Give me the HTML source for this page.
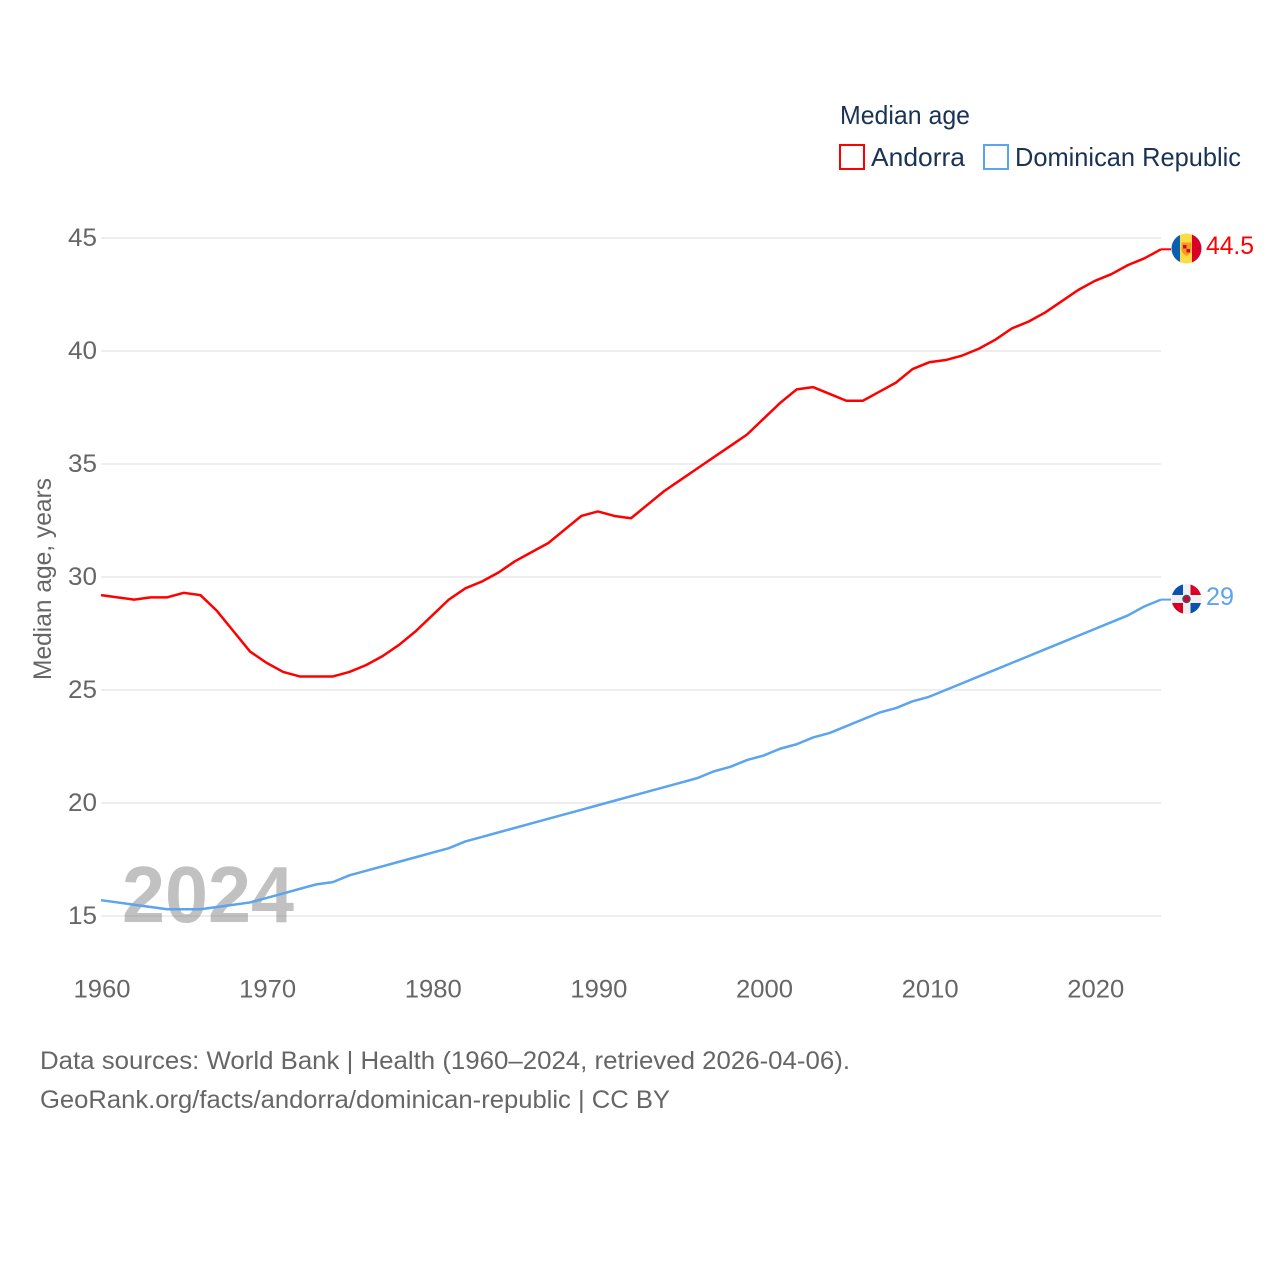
<!DOCTYPE html>
<html lang="en">
<head>
<meta charset="utf-8">
<title>Median age: Andorra and Dominican Republic</title>
<style>
html,body{margin:0;padding:0;background:#fff;width:1280px;height:1280px;overflow:hidden}
svg{display:block}
text{font-family:"Liberation Sans",sans-serif}
</style>
</head>
<body>
<svg id="chart" xmlns="http://www.w3.org/2000/svg" width="1280" height="1280" viewBox="0 0 1280 1280">
  <defs>
    <clipPath id="flag-clip-ad"><circle cx="1186.5" cy="248.500" r="15"/></clipPath>
    <clipPath id="flag-clip-do"><circle cx="1186.5" cy="599" r="15"/></clipPath>
  </defs>
  <g id="grid"></g>
  <g id="yticks"></g>
  <g id="xticks"></g>
  <text x="122" y="922" font-size="80" font-weight="700" fill="#888888" fill-opacity="0.52" textLength="172" lengthAdjust="spacingAndGlyphs">2024</text>
  <path id="line-andorra" fill="none" stroke="#ff0000" stroke-width="2.5" stroke-linejoin="round"/>
  <path id="line-dominican" fill="none" stroke="#5ba4ee" stroke-width="2.5" stroke-linejoin="round"/>
  <line id="leader-andorra" stroke="#ff0000" stroke-width="2"/>
  <line id="leader-dominican" stroke="#5ba4ee" stroke-width="2"/>
  <text transform="translate(51,680) rotate(-90)" font-size="25" fill="#666666" textLength="202" lengthAdjust="spacingAndGlyphs">Median age, years</text>

  <g>
    <text x="840" y="124" font-size="26" fill="#1a3355" textLength="130" lengthAdjust="spacingAndGlyphs">Median age</text>
    <g>
      <rect x="840" y="145" width="24" height="24" fill="#fff" stroke="#ff0000" stroke-width="2"/>
      <text x="871" y="166" font-size="26" fill="#1a3355" textLength="94" lengthAdjust="spacingAndGlyphs">Andorra</text>
    </g>
    <g>
      <rect x="984" y="145" width="24" height="24" fill="#fff" stroke="#5ba4ee" stroke-width="2"/>
      <text x="1015" y="166" font-size="26" fill="#1a3355" textLength="226" lengthAdjust="spacingAndGlyphs">Dominican Republic</text>
    </g>
  </g>

  <g id="flag-andorra">
    <g clip-path="url(#flag-clip-ad)">
      <rect x="1171" y="233" width="9.500" height="32" fill="#0b5fb0"/>
      <rect x="1180" y="233" width="12.500" height="32" fill="#ffda44"/>
      <rect x="1192" y="233" width="11" height="32" fill="#d80027"/>
    </g>
    <path d="M1181.500 242.500h10v7c0 3-2.500 5-5 6.500c-2.500-1.500-5-3.500-5-6.500z" fill="#f39c1f"/>
    <rect x="1186.500" y="249" width="3.500" height="3.500" fill="#d80027"/>
    <rect x="1183" y="245" width="3.500" height="3.500" fill="#d80027"/>
  </g>
  <text id="value-andorra" x="1206" y="254" font-size="25" fill="#ff0000" textLength="48" lengthAdjust="spacingAndGlyphs">44.5</text>

  <g id="flag-dominican">
    <g clip-path="url(#flag-clip-do)">
      <rect x="1171" y="583" width="32" height="32" fill="#f0f0f0"/>
      <rect x="1171" y="583" width="12" height="12" fill="#0b52b0"/>
      <rect x="1190.500" y="583" width="12" height="12" fill="#d80027"/>
      <rect x="1171" y="603" width="12" height="12" fill="#d80027"/>
      <rect x="1190.500" y="603" width="12" height="12" fill="#0b52b0"/>
    </g>
    <circle cx="1186.500" cy="599" r="3.500" fill="#d80027" stroke="#41507a" stroke-width="1.500"/>
  </g>
  <text id="value-dominican" x="1206" y="605" font-size="25" fill="#5ba4ee" textLength="28" lengthAdjust="spacingAndGlyphs">29</text>

  <g>
    <text x="40" y="1069" font-size="25" fill="#666666" textLength="810" lengthAdjust="spacingAndGlyphs">Data sources: World Bank | Health (1960–2024, retrieved 2026-04-06).</text>
    <text x="40" y="1108" font-size="25" fill="#666666" textLength="630" lengthAdjust="spacingAndGlyphs">GeoRank.org/facts/andorra/dominican-republic | CC BY</text>
  </g>
</svg>
<script>
const years = [1960,1961,1962,1963,1964,1965,1966,1967,1968,1969,1970,1971,1972,1973,1974,1975,1976,1977,1978,1979,1980,1981,1982,1983,1984,1985,1986,1987,1988,1989,1990,1991,1992,1993,1994,1995,1996,1997,1998,1999,2000,2001,2002,2003,2004,2005,2006,2007,2008,2009,2010,2011,2012,2013,2014,2015,2016,2017,2018,2019,2020,2021,2022,2023,2024];
const andorraValues = [29.2,29.1,29.0,29.1,29.1,29.3,29.2,28.5,27.6,26.7,26.2,25.8,25.6,25.6,25.6,25.8,26.1,26.5,27.0,27.6,28.3,29.0,29.5,29.8,30.2,30.7,31.1,31.5,32.1,32.7,32.9,32.7,32.6,33.2,33.8,34.3,34.8,35.3,35.8,36.3,37.0,37.7,38.3,38.4,38.1,37.8,37.8,38.2,38.6,39.2,39.5,39.6,39.8,40.1,40.5,41.0,41.3,41.7,42.2,42.7,43.1,43.4,43.8,44.1,44.5];
const dominicanValues = [15.7,15.6,15.5,15.4,15.3,15.3,15.3,15.4,15.5,15.6,15.8,16.0,16.2,16.4,16.5,16.8,17.0,17.2,17.4,17.6,17.8,18.0,18.3,18.5,18.7,18.9,19.1,19.3,19.5,19.7,19.9,20.1,20.3,20.5,20.7,20.9,21.1,21.4,21.6,21.9,22.1,22.4,22.6,22.9,23.1,23.4,23.7,24.0,24.2,24.5,24.7,25.0,25.3,25.6,25.9,26.2,26.5,26.8,27.1,27.4,27.7,28.0,28.3,28.7,29.0];
const yTickLabels = [15,20,25,30,35,40,45];
const xTickLabels = [1960,1970,1980,1990,2000,2010,2020];

const NS = 'http://www.w3.org/2000/svg';
function xScale(year) { return 101 + (year - 1960) * 16.5625; }
function yScale(value) { return 916 - (value - 15) * 22.6; }

function buildPath(values) {
  let d = '';
  for (let i = 0; i < years.length; i++) {
    d += (i ? 'L' : 'M') + xScale(years[i]).toFixed(2) + ' ' + yScale(values[i]).toFixed(2);
  }
  return d;
}

function placeLeader(id, values) {
  const leader = document.getElementById(id);
  const lastIndex = years.length - 1;
  const endX = xScale(years[lastIndex]);
  const endY = yScale(values[lastIndex]);
  leader.setAttribute('x1', endX);
  leader.setAttribute('x2', endX + 10);
  leader.setAttribute('y1', endY);
  leader.setAttribute('y2', endY);
}

document.getElementById('line-andorra').setAttribute('d', buildPath(andorraValues));
document.getElementById('line-dominican').setAttribute('d', buildPath(dominicanValues));
placeLeader('leader-andorra', andorraValues);
placeLeader('leader-dominican', dominicanValues);

const gridGroup = document.getElementById('grid');
const yTickGroup = document.getElementById('yticks');
yTickLabels.forEach(function (tick) {
  const line = document.createElementNS(NS, 'line');
  
  
  line.setAttribute('x1', 101);
  line.setAttribute('x2', 1161);
  line.setAttribute('y1', yScale(tick));
  line.setAttribute('y2', yScale(tick));
  line.setAttribute('stroke', '#e8e8e8');
  line.setAttribute('stroke-width', '1.5');
  gridGroup.appendChild(line);

  const label = document.createElementNS(NS, 'text');
  
  
  label.setAttribute('x', 68);
  label.setAttribute('y', yScale(tick) + 8);
  label.setAttribute('font-size', '25');
  label.setAttribute('fill', '#666666');
  label.setAttribute('textLength', '29');
  label.setAttribute('lengthAdjust', 'spacingAndGlyphs');
  label.textContent = tick;
  yTickGroup.appendChild(label);
});

const xTickGroup = document.getElementById('xticks');
xTickLabels.forEach(function (tick) {
  const label = document.createElementNS(NS, 'text');
  
  
  label.setAttribute('x', xScale(tick) - 27.5);
  label.setAttribute('y', 997.5);
  label.setAttribute('font-size', '25');
  label.setAttribute('fill', '#666666');
  label.setAttribute('textLength', '57');
  label.setAttribute('lengthAdjust', 'spacingAndGlyphs');
  label.textContent = tick;
  xTickGroup.appendChild(label);
});
</script>
</body>
</html>
